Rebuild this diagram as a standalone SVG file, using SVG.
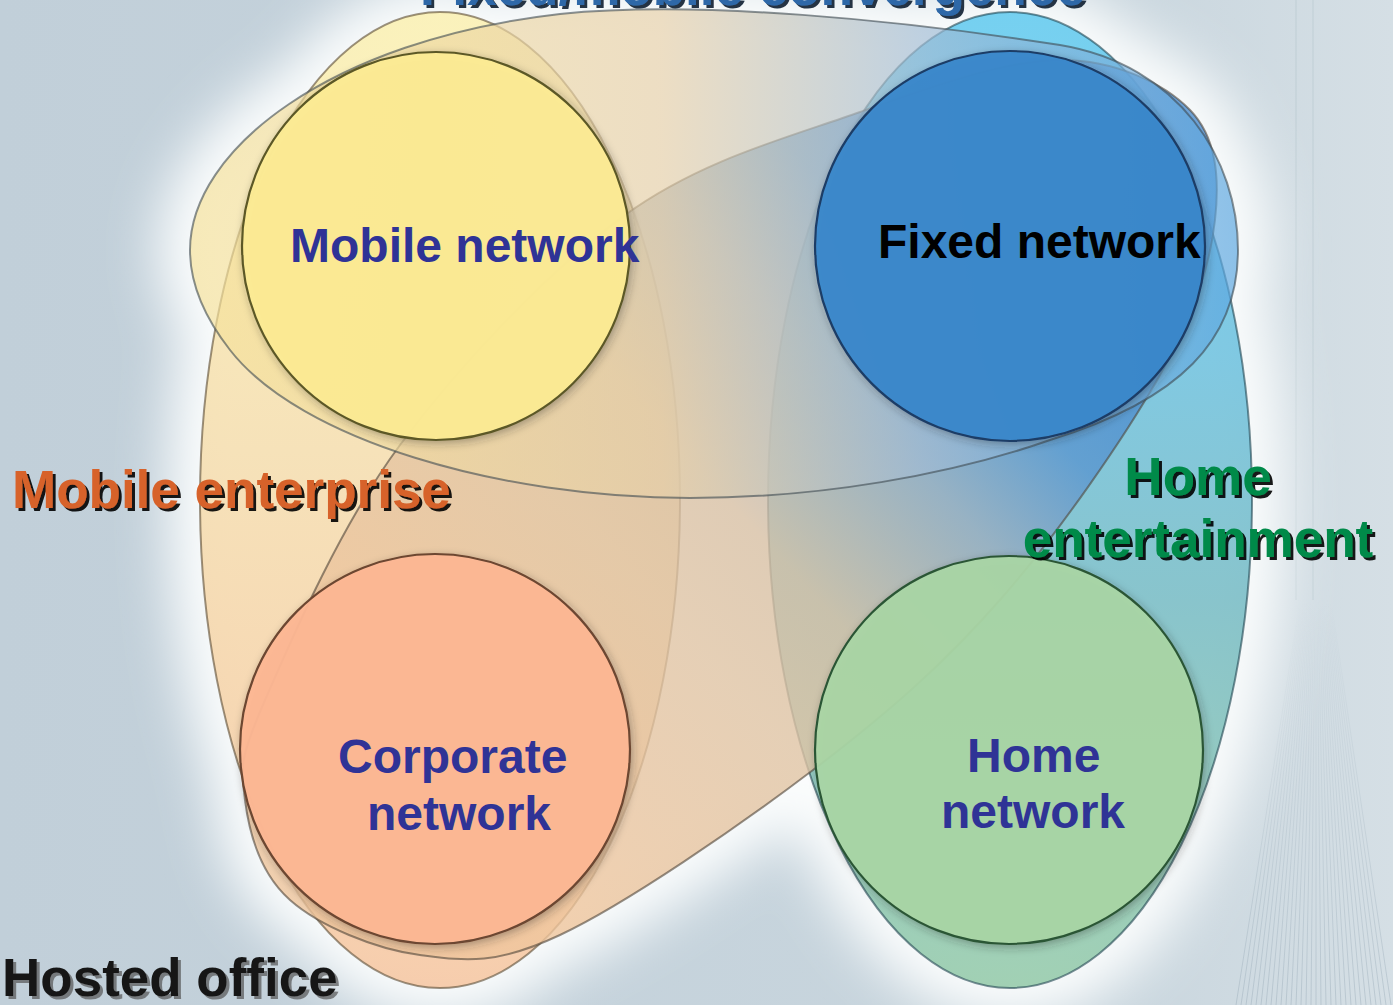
<svg xmlns="http://www.w3.org/2000/svg" width="1393" height="1005" viewBox="0 0 1393 1005">
  <defs>
    <style>
      .lbl { font-family: "Liberation Sans", Arial, sans-serif; font-weight: bold; }
      .net { font-size: 48px; fill: #2f3396; }
      .area { font-size: 53px; }
      .edge { stroke-width: 2; stroke-opacity: 0.6; }
      .disc { stroke-width: 2.2; filter: url(#lift); }
    </style>

    <!-- backdrop tint -->
    <linearGradient id="bg" x1="0" y1="0" x2="1" y2="0">
      <stop offset="0" stop-color="#c1cfd9"/>
      <stop offset="0.8" stop-color="#c9d6de"/>
      <stop offset="1" stop-color="#d5dfe5"/>
    </linearGradient>
    <linearGradient id="corridor" gradientUnits="userSpaceOnUse" x1="0" y1="600" x2="0" y2="1005">
      <stop offset="0" stop-color="#8fa2b0" stop-opacity="0"/>
      <stop offset="1" stop-color="#8fa2b0" stop-opacity="0.38"/>
    </linearGradient>

    <!-- region fills -->
    <linearGradient id="gME" gradientUnits="userSpaceOnUse" x1="0" y1="12" x2="0" y2="988">
      <stop offset="0" stop-color="#fbf0ae"/>
      <stop offset="0.45" stop-color="#f5dcaa"/>
      <stop offset="1" stop-color="#f6c39c"/>
    </linearGradient>
    <linearGradient id="gHE" gradientUnits="userSpaceOnUse" x1="0" y1="12" x2="0" y2="988">
      <stop offset="0" stop-color="#55c6ee"/>
      <stop offset="0.35" stop-color="#62bcdc"/>
      <stop offset="0.6" stop-color="#6cb6c0"/>
      <stop offset="1" stop-color="#8cc6a2"/>
    </linearGradient>
    <linearGradient id="gHO" gradientUnits="userSpaceOnUse" x1="450" y1="800" x2="1050" y2="250">
      <stop offset="0" stop-color="#efc59c"/>
      <stop offset="0.35" stop-color="#e0c4a4"/>
      <stop offset="0.5" stop-color="#d8c0a4"/>
      <stop offset="0.7" stop-color="#9cadbf"/>
      <stop offset="0.85" stop-color="#5a96cf"/>
      <stop offset="1" stop-color="#4a8cce"/>
    </linearGradient>
    <linearGradient id="gMFC" gradientUnits="userSpaceOnUse" x1="190" y1="0" x2="1238" y2="0">
      <stop offset="0" stop-color="#f6e29a"/>
      <stop offset="0.45" stop-color="#e6cfa8"/>
      <stop offset="0.7" stop-color="#a2bcd4"/>
      <stop offset="1" stop-color="#5aa6e0"/>
    </linearGradient>

    <filter id="halo" x="-30%" y="-30%" width="160%" height="160%">
      <feGaussianBlur stdDeviation="26"/>
    </filter>
    <filter id="lift" x="-15%" y="-15%" width="130%" height="130%">
      <feDropShadow dx="2" dy="3" stdDeviation="4" flood-color="#262626" flood-opacity="0.35"/>
    </filter>
    <filter id="ink" x="-5%" y="-20%" width="110%" height="140%">
      <feDropShadow dx="3" dy="3" stdDeviation="0.6" flood-color="#000" flood-opacity="0.9"/>
    </filter>
    <filter id="inkNavy" x="-5%" y="-20%" width="110%" height="140%">
      <feDropShadow dx="3" dy="3" stdDeviation="0.6" flood-color="#0d1a33" flood-opacity="0.9"/>
    </filter>
    <filter id="inkGrey" x="-5%" y="-20%" width="110%" height="140%">
      <feDropShadow dx="3" dy="3" stdDeviation="0.6" flood-color="#555" flood-opacity="0.7"/>
    </filter>

    <!-- region outlines -->
    <ellipse id="shpME" cx="440" cy="500" rx="240" ry="488"/>
    <ellipse id="shpHE" cx="1010" cy="500" rx="242" ry="488"/>
    <path id="shpHO" d="M245 800 C240.8 766.7 239.2 759.2 265 700 C290.8 640.8 340 525.8 400 445 C460 364.2 548.3 270.5 625 215 C701.7 159.5 787.5 137.8 860 112 C932.5 86.2 1005 60.3 1060 60 C1115 59.7 1164.2 83.3 1190 110 C1215.8 136.7 1220 175.8 1215 220 C1210 264.2 1195.8 311.7 1160 375 C1124.2 438.3 1057.8 534.2 1000 600 C942.2 665.8 886.3 714.2 813 770 C739.7 825.8 625.5 904.2 560 935 C494.5 965.8 465 960.8 420 955 C375 949.2 319.2 925.8 290 900 C260.8 874.2 249.2 833.3 245 800 Z"/>
    <path id="shpMFC" d="M190 250 C190 150 330 40 560 14 C700 0 900 20 1060 45 C1180 65 1238 160 1238 250 C1238 340 1180 400 1050 440 C950 475 820 498 690 498 C500 498 300 440 230 350 C205 318 190 285 190 250 Z"/>
  </defs>

  <!-- backdrop: wall tint, corridor floor lines, white halo -->
  <g id="backdrop">
    <rect width="1393" height="1005" fill="url(#bg)"/>
    <path stroke="url(#corridor)" stroke-width="1" fill="none" d="M1300 600 L1236 1005 M1301 600 L1241 1005 M1302 600 L1246 1005 M1303 600 L1251 1005 M1304 600 L1256 1005 M1305 600 L1261 1005 M1306 600 L1266 1005 M1307 600 L1271 1005 M1308 600 L1276 1005 M1309 600 L1281 1005 M1310 600 L1286 1005 M1311 600 L1291 1005 M1312 600 L1296 1005 M1313 600 L1301 1005 M1314 600 L1306 1005 M1315 600 L1311 1005 M1316 600 L1316 1005 M1317 600 L1321 1005 M1318 600 L1326 1005 M1319 600 L1331 1005 M1320 600 L1336 1005 M1321 600 L1341 1005 M1322 600 L1346 1005 M1323 600 L1351 1005 M1324 600 L1356 1005 M1325 600 L1361 1005 M1326 600 L1366 1005 M1327 600 L1371 1005 M1328 600 L1376 1005 M1329 600 L1381 1005 M1330 600 L1386 1005 M1331 600 L1391 1005"/>
    <path stroke="#b3c2cc" stroke-width="1.5" fill="none" opacity="0.35" d="M1313 0 L1313 600 M1296 0 L1296 600"/>
    <g filter="url(#halo)" fill="#fbfdfd" stroke="#fbfdfd" stroke-width="64">
      <use href="#shpME"/>
      <use href="#shpHE"/>
      <use href="#shpHO"/>
      <use href="#shpMFC"/>
    </g>
  </g>

  <!-- large overlapping service areas -->
  <g id="home-entertainment">
    <use href="#shpHE" fill="url(#gHE)" fill-opacity="0.8" stroke="#1f4450" class="edge"/>
  </g>
  <g id="mobile-enterprise">
    <use href="#shpME" fill="url(#gME)" fill-opacity="0.82" stroke="#5a4a30" class="edge"/>
  </g>
  <g id="hosted-office">
    <use href="#shpHO" fill="url(#gHO)" fill-opacity="0.8" stroke="#4e4438" class="edge"/>
  </g>
  <g id="fixed-mobile-convergence">
    <use href="#shpMFC" fill="url(#gMFC)" fill-opacity="0.68" stroke="#3e4a50" class="edge"/>
  </g>

  <!-- the four networks -->
  <g id="mobile-network">
    <circle cx="436" cy="246" r="194" fill="#fdec94" fill-opacity="0.94" stroke="#5c5828" class="disc"/>
    <text class="lbl net" x="290" y="262">Mobile network</text>
  </g>
  <g id="fixed-network">
    <circle cx="1010" cy="246" r="195" fill="#3887cb" fill-opacity="0.95" stroke="#1c3c66" class="disc"/>
    <text class="lbl net" x="878" y="258" style="fill:#000">Fixed network</text>
  </g>
  <g id="corporate-network">
    <circle cx="435" cy="749" r="195" fill="#fdb793" fill-opacity="0.95" stroke="#6c4630" class="disc"/>
    <text class="lbl net" x="338" y="773">Corporate</text>
    <text class="lbl net" x="367" y="830">network</text>
  </g>
  <g id="home-network">
    <circle cx="1009" cy="750" r="194" fill="#aad6a6" fill-opacity="0.93" stroke="#2c5636" class="disc"/>
    <text class="lbl net" x="967" y="772">Home</text>
    <text class="lbl net" x="941" y="828">network</text>
  </g>

  <!-- area captions -->
  <g id="label-fixed-mobile-convergence">
    <text class="lbl area" x="420" y="5" fill="#2f68a8" filter="url(#inkNavy)">Fixed/mobile convergence</text>
  </g>
  <g id="label-mobile-enterprise">
    <text class="lbl area" x="12" y="508" fill="#d7622a" filter="url(#ink)">Mobile enterprise</text>
  </g>
  <g id="label-home-entertainment">
    <text class="lbl area" x="1198" y="495" text-anchor="middle" fill="#008a4a" filter="url(#ink)">Home</text>
    <text class="lbl area" x="1198" y="557" text-anchor="middle" fill="#008a4a" filter="url(#ink)">entertainment</text>
  </g>
  <g id="label-hosted-office">
    <text class="lbl area" x="2" y="996" fill="#161616" filter="url(#inkGrey)">Hosted office</text>
  </g>
</svg>
